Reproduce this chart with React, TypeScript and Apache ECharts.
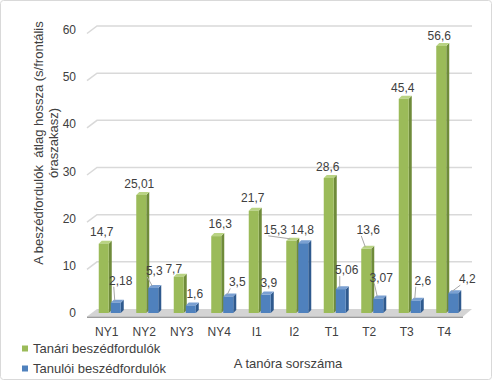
import React, { useEffect, useRef } from "react";
import * as echarts from "echarts";

const categories = ["NY1", "NY2", "NY3", "NY4", "I1", "I2", "T1", "T2", "T3", "T4"];
const teacherTurns = [14.7, 25.01, 7.7, 16.3, 21.7, 15.3, 28.6, 13.6, 45.4, 56.6];
const studentTurns = [2.18, 5.3, 1.6, 3.5, 3.9, 14.8, 5.06, 3.07, 2.6, 4.2];
const yTicks = [0, 10, 20, 30, 40, 50, 60];
const seriesNames = ["Tanári beszédfordulók", "Tanulói beszédfordulók"];
const yTitle = "A beszédfordulók  átlag hossza (s/frontális\nóraszakasz)";
const xTitle = "A tanóra sorszáma";

// label placement (layout only): offset of the label centre from the bar's top-front centre
const teacherLabelOffsets = [[-2, -12], [-2, -11], [-5, -8], [4, -12], [-1, -13], [-16, -11], [-1, -11], [2, -19], [-1, -11], [-2, -10]];
const studentLabelOffsets = [[5, -22], [1, -17], [4, -11], [9, -14], [3, -12], [-1, -13], [6, -19], [3, -21], [7, -20], [14, -14]];

const FONT = "'Liberation Sans', Arial, sans-serif";
const TEXT = "#404040";
const fmt = (v: number) => String(v).replace(".", ",");

type Faces = { front: string; side: string; top: string };
const GREEN: Faces = { front: "#9BBB59", side: "#6F8B3A", top: "#B9D383" };
const BLUE: Faces = { front: "#4F81BD", side: "#2F5A8E", top: "#7AA0D2" };

function makeBarRender(offsets: number[][], faces: Faces, left: number, right: number) {
  return (params: any, api: any) => {
    const idx = api.value(0);
    const v = api.value(1);
    const top = api.coord([idx, v]);
    const base = api.coord([idx, 0]);
    const cx = top[0];
    const x0 = cx + left;
    const x1 = cx + right;
    const yt = top[1];
    const yb = base[1];
    const d = 3;
    const bx = (x0 + x1) / 2;
    const off = offsets[params.dataIndex] || [0, -11];
    const lx = bx + off[0];
    const ly = yt + off[1];
    const children: any[] = [
      { type: "polygon", shape: { points: [[x1, yt], [x1 + d, yt - d], [x1 + d, yb - d], [x1, yb]] }, style: { fill: faces.side } },
      { type: "polygon", shape: { points: [[x0, yt], [x0 + d, yt - d], [x1 + d, yt - d], [x1, yt]] }, style: { fill: faces.top } },
      { type: "rect", shape: { x: x0, y: yt, width: x1 - x0, height: yb - yt }, style: { fill: faces.front } },
    ];
    if (Math.abs(off[1]) > 15 || Math.abs(off[0]) > 8) {
      children.push({
        type: "line",
        shape: { x1: bx - 1, y1: yt - 2, x2: lx - 7, y2: ly + 6 },
        style: { stroke: "#A6A6A6", lineWidth: 1 },
      });
    }
    children.push({
      type: "text",
      style: { text: fmt(v), x: lx, y: ly, align: "center", verticalAlign: "middle", fill: TEXT, font: `12px ${FONT}` },
    });
    return { type: "group", children };
  };
}

function renderGrid(params: any, api: any) {
  const cs = params.coordSys;
  const v = api.value(1);
  const p = api.coord([0, v]);
  const y = p[1];
  const x0 = cs.x;
  const W = cs.width;
  if (v === 0) {
    return {
      type: "group",
      children: [
        {
          type: "polygon",
          shape: { points: [[x0 - 1, y + 3.5], [x0 + 9, y - 4], [x0 + W + 9, y - 4], [x0 + W, y + 3.5]] },
          style: { fill: "#D4D4D4" },
        },
        {
          type: "polygon",
          shape: { points: [[x0 - 1, y + 3.5], [x0 + W, y + 3.5], [x0 + W, y + 5], [x0 - 1, y + 5]] },
          style: { fill: "#9C9C9C" },
        },
      ],
    };
  }
  return {
    type: "polyline",
    shape: { points: [[x0 - 1, y + 3.5], [x0 + 9, y - 4], [x0 + W + 9, y - 4]] },
    style: { stroke: "#D9D9D9", lineWidth: 1.5, fill: "none" },
  };
}

export default function App() {
  const ref = useRef<HTMLDivElement>(null);
  useEffect(() => {
    if (!ref.current) return;
    const chart = echarts.init(ref.current, undefined, { renderer: "svg" });
    chart.setOption({
      animation: false,
      backgroundColor: "#FFFFFF",
      textStyle: { fontFamily: FONT },
      grid: { left: 88, right: 29, top: 30, bottom: 67, containLabel: false },
      xAxis: {
        type: "category",
        data: categories,
        axisLine: { show: false },
        axisTick: { show: false },
        axisLabel: { margin: 13, fontSize: 12, color: TEXT, fontFamily: FONT },
      },
      yAxis: {
        type: "value",
        min: 0,
        max: 60,
        interval: 10,
        axisLine: { show: false },
        axisTick: { show: false },
        splitLine: { show: false },
        axisLabel: { margin: 12, fontSize: 12, color: TEXT, fontFamily: FONT, padding: [6, 0, 0, 0] },
      },
      legend: {
        orient: "vertical",
        left: 22,
        top: 341,
        itemWidth: 6,
        itemHeight: 6,
        itemGap: 5,
        icon: "rect",
        padding: 0,
        data: seriesNames,
        textStyle: { fontSize: 13, lineHeight: 15, color: TEXT, fontFamily: FONT },
      },
      graphic: [
        {
          type: "rect",
          shape: { x: 0.5, y: 0.5, width: 491, height: 379, r: 3 },
          style: { fill: "none", stroke: "#D9D9D9", lineWidth: 1 },
          silent: true,
        },
        {
          type: "text",
          x: 45.5,
          y: 143,
          rotation: Math.PI / 2,
          style: { text: yTitle, align: "center", verticalAlign: "middle", fill: TEXT, font: `13px ${FONT}`, lineHeight: 15 },
        },
        {
          type: "text",
          x: 288,
          y: 363,
          style: { text: xTitle, align: "center", verticalAlign: "middle", fill: TEXT, font: `13px ${FONT}` },
        },
      ],
      series: [
        {
          type: "custom",
          name: "grid3d",
          z: 1,
          clip: false,
          silent: true,
          renderItem: renderGrid,
          data: yTicks.map((v) => [0, v]),
        },
        {
          type: "custom",
          name: seriesNames[0],
          z: 2,
          clip: false,
          itemStyle: { color: GREEN.front },
          renderItem: makeBarRender(teacherLabelOffsets, GREEN, -8, 2),
          data: teacherTurns.map((v, i) => [i, v]),
        },
        {
          type: "custom",
          name: seriesNames[1],
          z: 3,
          clip: false,
          itemStyle: { color: BLUE.front },
          renderItem: makeBarRender(studentLabelOffsets, BLUE, 4, 14),
          data: studentTurns.map((v, i) => [i, v]),
        },
      ],
    });
    return () => chart.dispose();
  }, []);
  return <div ref={ref} style={{ position: "fixed", left: 0, top: 0, width: 492, height: 380 }} />;
}
